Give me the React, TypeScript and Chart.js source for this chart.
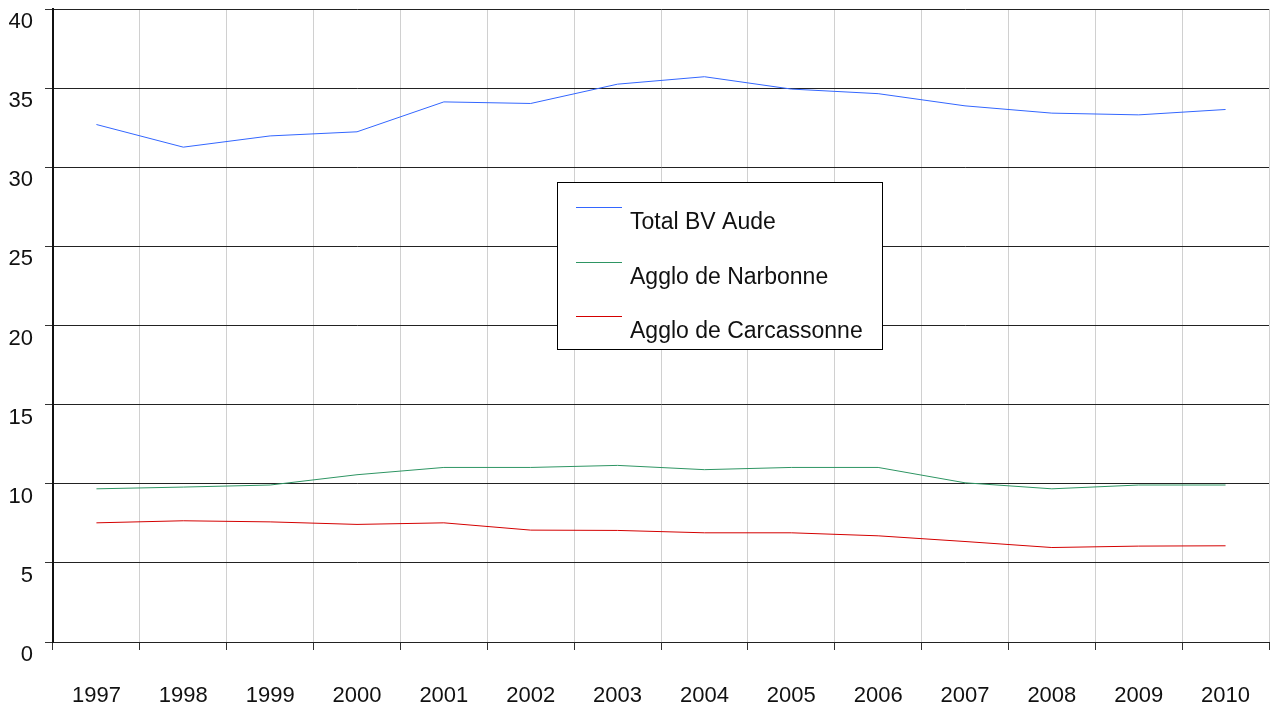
import React, { useEffect, useRef } from "react";
import { Chart, registerables } from "chart.js";

Chart.register(...registerables);

const years = ["1997", "1998", "1999", "2000", "2001", "2002", "2003", "2004", "2005", "2006", "2007", "2008", "2009", "2010"];
const totalBVAude = [32.7, 31.27, 31.98, 32.24, 34.13, 34.03, 35.25, 35.72, 34.94, 34.65, 33.88, 33.42, 33.31, 33.65];
const aggloNarbonne = [9.68, 9.79, 9.92, 10.57, 11.03, 11.03, 11.16, 10.89, 11.03, 11.03, 10.06, 9.68, 9.92, 9.92];
const aggloCarcassonne = [7.53, 7.66, 7.59, 7.43, 7.53, 7.07, 7.05, 6.9, 6.9, 6.71, 6.35, 5.97, 6.06, 6.08];
const seriesLabels = ["Total BV Aude", "Agglo de Narbonne", "Agglo de Carcassonne"];
const seriesColors = ["#3366ff", "#2e9563", "#d40000"];

const FONT = "'Liberation Sans', Arial, sans-serif";

const boxLegend = {
  id: "boxLegend",
  afterDraw(chart: any) {
    const ctx = chart.ctx;
    ctx.save();
    const x0 = 557.5, y0 = 182.5, w = 325, h = 167;
    ctx.fillStyle = "#ffffff";
    ctx.fillRect(x0, y0, w, h);
    ctx.strokeStyle = "#000000";
    ctx.lineWidth = 1;
    ctx.strokeRect(x0, y0, w, h);
    const lineYs = [207, 262, 316];
    const baseYs = [229, 284, 338];
    chart.data.datasets.forEach((ds: any, i: number) => {
      ctx.strokeStyle = ds.borderColor;
      ctx.lineWidth = 1;
      ctx.beginPath();
      ctx.moveTo(576, lineYs[i] + 0.5);
      ctx.lineTo(622, lineYs[i] + 0.5);
      ctx.stroke();
      ctx.fillStyle = "#111111";
      ctx.font = `23px ${FONT}`;
      ctx.textBaseline = "alphabetic";
      ctx.textAlign = "left";
      ctx.fillText(ds.label, 630, baseYs[i]);
    });
    ctx.restore();
  },
};

export default function App() {
  const ref = useRef<HTMLCanvasElement | null>(null);
  useEffect(() => {
    if (!ref.current) return;
    const datasets = [totalBVAude, aggloNarbonne, aggloCarcassonne].map((d, i) => ({
      label: seriesLabels[i],
      data: d,
      borderColor: seriesColors[i],
      backgroundColor: seriesColors[i],
      borderWidth: 1,
      pointRadius: 0,
      tension: 0,
      fill: false,
    }));
    const chart = new Chart(ref.current, {
      type: "line",
      data: { labels: years, datasets },
      options: {
        animation: false,
        responsive: true,
        maintainAspectRatio: false,
        layout: { padding: { top: 9, right: 1, left: 0, bottom: 0 } },
        plugins: { legend: { display: false }, tooltip: { enabled: false } },
        scales: {
          x: {
            offset: true,
            afterFit: (s: any) => { s.height = 64; s.paddingLeft = 0; s.paddingRight = 0; },
            grid: {
              offset: true,
              color: (c: any) => (c.index === years.length ? "#333333" : "#d0d0d0"),
              tickColor: "#333333",
              tickLength: 8,
              drawOnChartArea: true,
            },
            border: { color: "#222222", width: 1 },
            ticks: { color: "#111111", font: { family: FONT, size: 22 }, padding: 33, maxRotation: 0 },
          },
          y: {
            min: 0,
            max: 40,
            afterFit: (s: any) => { s.width = 53; s.paddingTop = 0; s.paddingBottom = 0; },
            grid: { color: "#222222", tickColor: "#333333", tickLength: 8 },
            border: { color: "#111111", width: 2 },
            ticks: { stepSize: 5, color: "#111111", font: { family: FONT, size: 22 }, padding: 12, labelOffset: 13 },
          },
        },
      },
      plugins: [boxLegend],
    });
    return () => chart.destroy();
  }, []);
  return (
    <div style={{ position: "fixed", left: 0, top: 0, width: 1270, height: 706, background: "#fff" }}>
      <canvas ref={ref} />
    </div>
  );
}
